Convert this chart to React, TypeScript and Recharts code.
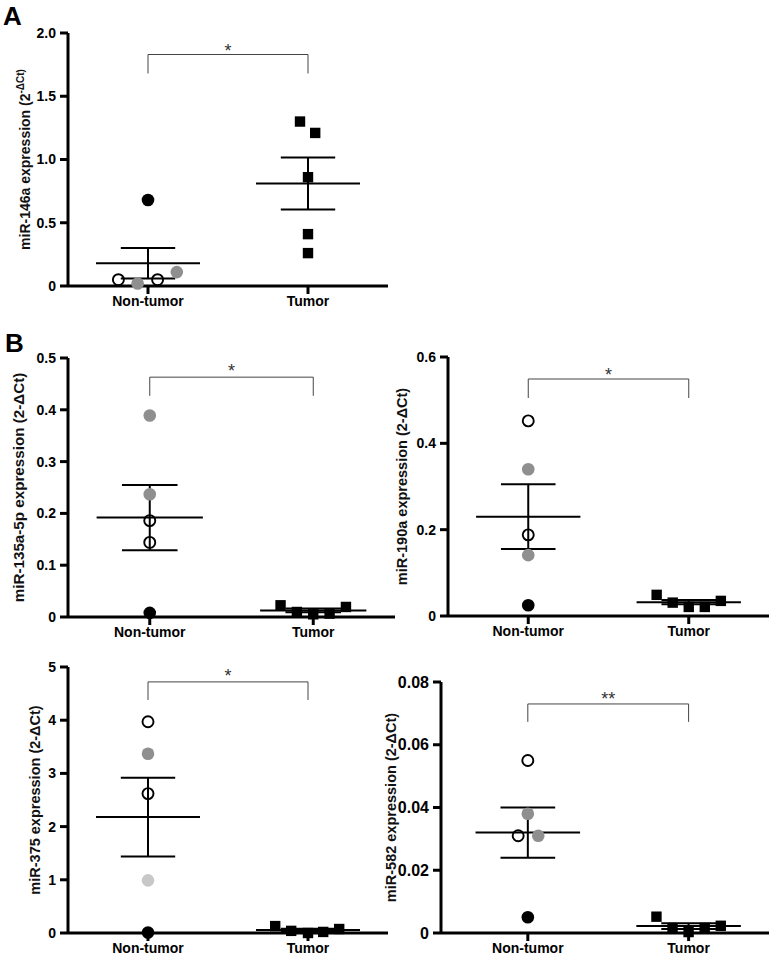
import React from 'react';
import { ScatterChart, Scatter, XAxis, YAxis, ReferenceLine, ReferenceDot, Label } from 'recharts';

const FONT = 'Arial, "Liberation Sans", Helvetica, sans-serif';
const GRAY = '#8f8f8f';
const LIGHT = '#c8c8c8';

const GROUPS = ['Non-tumor', 'Tumor'];

// A - miR-146a
const mir146aBlack = [0.68];
const mir146aOpen = [0.05, 0.05];
const mir146aGray = [0.02, 0.11];
const mir146aTumor = [1.3, 1.21, 0.86, 0.41, 0.26];
const mir146aMean = [0.18, 0.81];
const mir146aSem = [0.12, 0.205];
const mir146aTicks = [0, 0.5, 1, 1.5, 2];

// B - miR-135a-5p
const mir135Gray = [0.389, 0.237];
const mir135Open = [0.186, 0.144];
const mir135Black = [0.008];
const mir135Tumor = [0.0226, 0.0097, 0.0052, 0.0066, 0.0194];
const mir135Mean = [0.192, 0.0127];
const mir135Sem = [0.063, 0.0035];
const mir135Ticks = [0, 0.1, 0.2, 0.3, 0.4, 0.5];

// B - miR-190a
const mir190Open = [0.452, 0.188];
const mir190Gray = [0.34, 0.141];
const mir190Black = [0.025];
const mir190Tumor = [0.049, 0.031, 0.021, 0.021, 0.035];
const mir190Mean = [0.23, 0.032];
const mir190Sem = [0.075, 0.005];
const mir190Ticks = [0, 0.2, 0.4, 0.6];

// B - miR-375
const mir375Open = [3.97, 2.62];
const mir375Gray = [3.37];
const mir375Light = [0.99];
const mir375Black = [0.01];
const mir375Tumor = [0.13, 0.04, 0.0, 0.02, 0.075];
const mir375Mean = [2.18, 0.056];
const mir375Sem = [0.74, 0.025];
const mir375Ticks = [0, 1, 2, 3, 4, 5];

// B - miR-582
const mir582Open = [0.055, 0.031];
const mir582Gray = [0.038, 0.031];
const mir582Black = [0.005];
const mir582Tumor = [0.0052, 0.0016, 0.0003, 0.0016, 0.0023];
const mir582Mean = [0.032, 0.0022];
const mir582Sem = [0.008, 0.0009];
const mir582Ticks = [0, 0.02, 0.04, 0.06, 0.08];

// horizontal scatter of points around group centre (x units)
const SPREAD5 = [-0.4, -0.2, 0, 0.2, 0.4];
const CENTERS = [1, 3];

const dot = (kind: string) => (p: any) => {
    const { cx, cy } = p;
    if (cx == null || cy == null) return <g />;
    if (kind === 'square') return <rect x={cx - 5.2} y={cy - 5.2} width={10.4} height={10.4} fill="#000" />;
    if (kind === 'open') return <circle cx={cx} cy={cy} r={5.5} fill="none" stroke="#000" strokeWidth={1.9} />;
    const fill = kind === 'gray' ? GRAY : kind === 'light' ? LIGHT : '#000';
    return <circle cx={cx} cy={cy} r={6.3} fill={fill} />;
};

const s = (kind: string, group: number, values: number[], jitter?: number[]) => ({ kind, group, values, jitter: jitter || values.map(() => 0) });

const PANELS = [
    {
        id: 'A', label: 'miR-146a expression (2', sup: '-ΔCt)', labelGap: 43, labelFont: 14, decimals: 1, tickFont: 14,
        rect: { x0: 68, x1: 388, y0: 33, y1: 286 }, xMin: 0,
        ticks: mir146aTicks, mean: mir146aMean, sem: mir146aSem,
        bracket: [1.83, 1.68, 1.89], stars: '*',
        series: [
            s('black', 0, mir146aBlack),
            s('open', 0, mir146aOpen, [-0.37, 0.12]),
            s('gray', 0, mir146aGray, [-0.13, 0.36]),
            s('square', 1, mir146aTumor, [-0.1, 0.09, 0, 0, 0]),
        ],
    },
    {
        id: 'B1', label: 'miR-135a-5p expression (2-ΔCt)', labelGap: 50, labelFont: 15.2, decimals: 1, tickFont: 14,
        rect: { x0: 68, x1: 395, y0: 358, y1: 617 }, xMin: 0,
        ticks: mir135Ticks, mean: mir135Mean, sem: mir135Sem,
        bracket: [0.463, 0.427, 0.483], stars: '*',
        series: [
            s('gray', 0, mir135Gray),
            s('open', 0, mir135Open),
            s('black', 0, mir135Black),
            s('square', 1, mir135Tumor, SPREAD5),
        ],
    },
    {
        id: 'B2', label: 'miR-190a expression (2-ΔCt)', labelGap: 46, labelFont: 14.5, decimals: 1, tickFont: 14,
        rect: { x0: 448, x1: 769, y0: 357, y1: 616 }, xMin: 0,
        ticks: mir190Ticks, mean: mir190Mean, sem: mir190Sem,
        bracket: [0.549, 0.505, 0.568], stars: '*',
        series: [
            s('open', 0, mir190Open),
            s('gray', 0, mir190Gray),
            s('black', 0, mir190Black),
            s('square', 1, mir190Tumor, SPREAD5),
        ],
    },
    {
        id: 'B3', label: 'miR-375 expression (2-ΔCt)', labelGap: 33, labelFont: 14.5, decimals: 0, tickFont: 14,
        rect: { x0: 68, x1: 388, y0: 667, y1: 933 }, xMin: 0,
        ticks: mir375Ticks, mean: mir375Mean, sem: mir375Sem,
        bracket: [4.72, 4.38, 4.91], stars: '*',
        series: [
            s('open', 0, mir375Open),
            s('gray', 0, mir375Gray),
            s('light', 0, mir375Light),
            s('black', 0, mir375Black),
            s('square', 1, mir375Tumor, [-0.41, -0.21, 0, 0.19, 0.39]),
        ],
    },
    {
        id: 'B4', label: 'miR-582 expression (2-ΔCt)', labelGap: 50, labelFont: 14.5, decimals: 2, tickFont: 16,
        rect: { x0: 441, x1: 769, y0: 682, y1: 933 }, xMin: -0.08,
        ticks: mir582Ticks, mean: mir582Mean, sem: mir582Sem,
        bracket: [0.073, 0.0673, 0.0759], stars: '**',
        series: [
            s('open', 0, mir582Open, [0, -0.12]),
            s('gray', 0, mir582Gray, [0, 0.13]),
            s('black', 0, mir582Black),
            s('square', 1, mir582Tumor, SPREAD5),
        ],
    },
];

const YW = 70, MT = 24, MR = 4, XH = 36;
const MEAN_HALF = 0.65, CAP_HALF = 0.34;

const Panel = ({ cfg }: any) => {
    const { rect } = cfg;
    const w = rect.x1 - rect.x0 + YW + MR;
    const h = rect.y1 - rect.y0 + MT + XH;
    const yMax = cfg.ticks[cfg.ticks.length - 1];
    const [by, bd, sy] = cfg.bracket;

    const renderLabel = (props: any) => {
        const vb = props.viewBox || { x: 0, y: MT, width: YW, height: rect.y1 - rect.y0 };
        const x = vb.x + vb.width - cfg.labelGap;
        const y = vb.y + vb.height / 2;
        return (
            <text x={x} y={y} transform={`rotate(-90, ${x}, ${y})`} textAnchor="middle" dominantBaseline="central"
                fontSize={cfg.labelFont} fontWeight="bold" fontFamily={FONT} fill="#111">
                {cfg.label}
                {cfg.sup && <tspan dy={-5} fontSize={10}>{cfg.sup}</tspan>}
            </text>
        );
    };

    return (
        <div style={{ position: 'absolute', left: rect.x0 - YW, top: rect.y0 - MT }}>
            <ScatterChart width={w} height={h} margin={{ top: MT, right: MR, bottom: 0, left: 0 }}>
                <XAxis type="number" dataKey="x" domain={[cfg.xMin, 4]} ticks={CENTERS} interval={0}
                    tickFormatter={(v) => (v === 1 ? GROUPS[0] : GROUPS[1])}
                    height={XH} tickSize={8} tickMargin={2} stroke="#000"
                    axisLine={{ stroke: '#000', strokeWidth: 3 }} tickLine={{ stroke: '#000', strokeWidth: 3 }}
                    tick={{ fontSize: 14, fontWeight: 'bold', fill: '#000', fontFamily: FONT }} />
                <YAxis type="number" dataKey="y" domain={[0, yMax]} ticks={cfg.ticks} interval={0}
                    tickFormatter={(v) => (v === 0 ? '0' : v.toFixed(cfg.decimals))}
                    width={YW} tickSize={8} tickMargin={4} stroke="#000"
                    axisLine={{ stroke: '#000', strokeWidth: 3 }} tickLine={{ stroke: '#000', strokeWidth: 3 }}
                    tick={{ fontSize: cfg.tickFont, fontWeight: 'bold', fill: '#000', fontFamily: FONT }}>
                    <Label content={renderLabel} />
                </YAxis>

                {cfg.series.map((ser: any, i: number) => (
                    <Scatter key={i} isAnimationActive={false}
                        data={ser.values.map((v: number, j: number) => ({ x: CENTERS[ser.group] + ser.jitter[j], y: v }))}
                        shape={dot(ser.kind)} />
                ))}

                {CENTERS.map((c, g) => {
                    const m = cfg.mean[g], e = cfg.sem[g];
                    return [
                        <ReferenceLine key={`m${g}`} segment={[{ x: c - MEAN_HALF, y: m }, { x: c + MEAN_HALF, y: m }]} stroke="#000" strokeWidth={2} />,
                        <ReferenceLine key={`u${g}`} segment={[{ x: c - CAP_HALF, y: m + e }, { x: c + CAP_HALF, y: m + e }]} stroke="#000" strokeWidth={2} />,
                        <ReferenceLine key={`l${g}`} segment={[{ x: c - CAP_HALF, y: m - e }, { x: c + CAP_HALF, y: m - e }]} stroke="#000" strokeWidth={2} />,
                        <ReferenceLine key={`v${g}`} segment={[{ x: c, y: m - e }, { x: c, y: m + e }]} stroke="#000" strokeWidth={2} />,
                    ];
                })}

                <ReferenceLine segment={[{ x: 1, y: bd }, { x: 1, y: by }]} stroke="#444" strokeWidth={1} />
                <ReferenceLine segment={[{ x: 1, y: by }, { x: 3, y: by }]} stroke="#444" strokeWidth={1} />
                <ReferenceLine segment={[{ x: 3, y: by }, { x: 3, y: bd }]} stroke="#444" strokeWidth={1} />
                <ReferenceDot x={2} y={sy} r={0}
                    shape={(p: any) => (
                        <text x={p.cx} y={p.cy + 10} textAnchor="middle" fontSize={18} fontFamily={FONT} fill="#333">{cfg.stars}</text>
                    )} />
            </ScatterChart>
        </div>
    );
};

export default function App() {
    return (
        <div style={{ position: 'absolute', left: 0, top: 0, width: 772, height: 960, background: '#fff', fontFamily: FONT, overflow: 'hidden' }}>
            <div style={{ position: 'absolute', left: 3, top: 3, fontSize: 26, lineHeight: '26px', fontWeight: 'bold', color: '#000' }}>A</div>
            <div style={{ position: 'absolute', left: 5, top: 330, fontSize: 26, lineHeight: '26px', fontWeight: 'bold', color: '#000' }}>B</div>
            {PANELS.map((p) => <Panel key={p.id} cfg={p} />)}
        </div>
    );
}
